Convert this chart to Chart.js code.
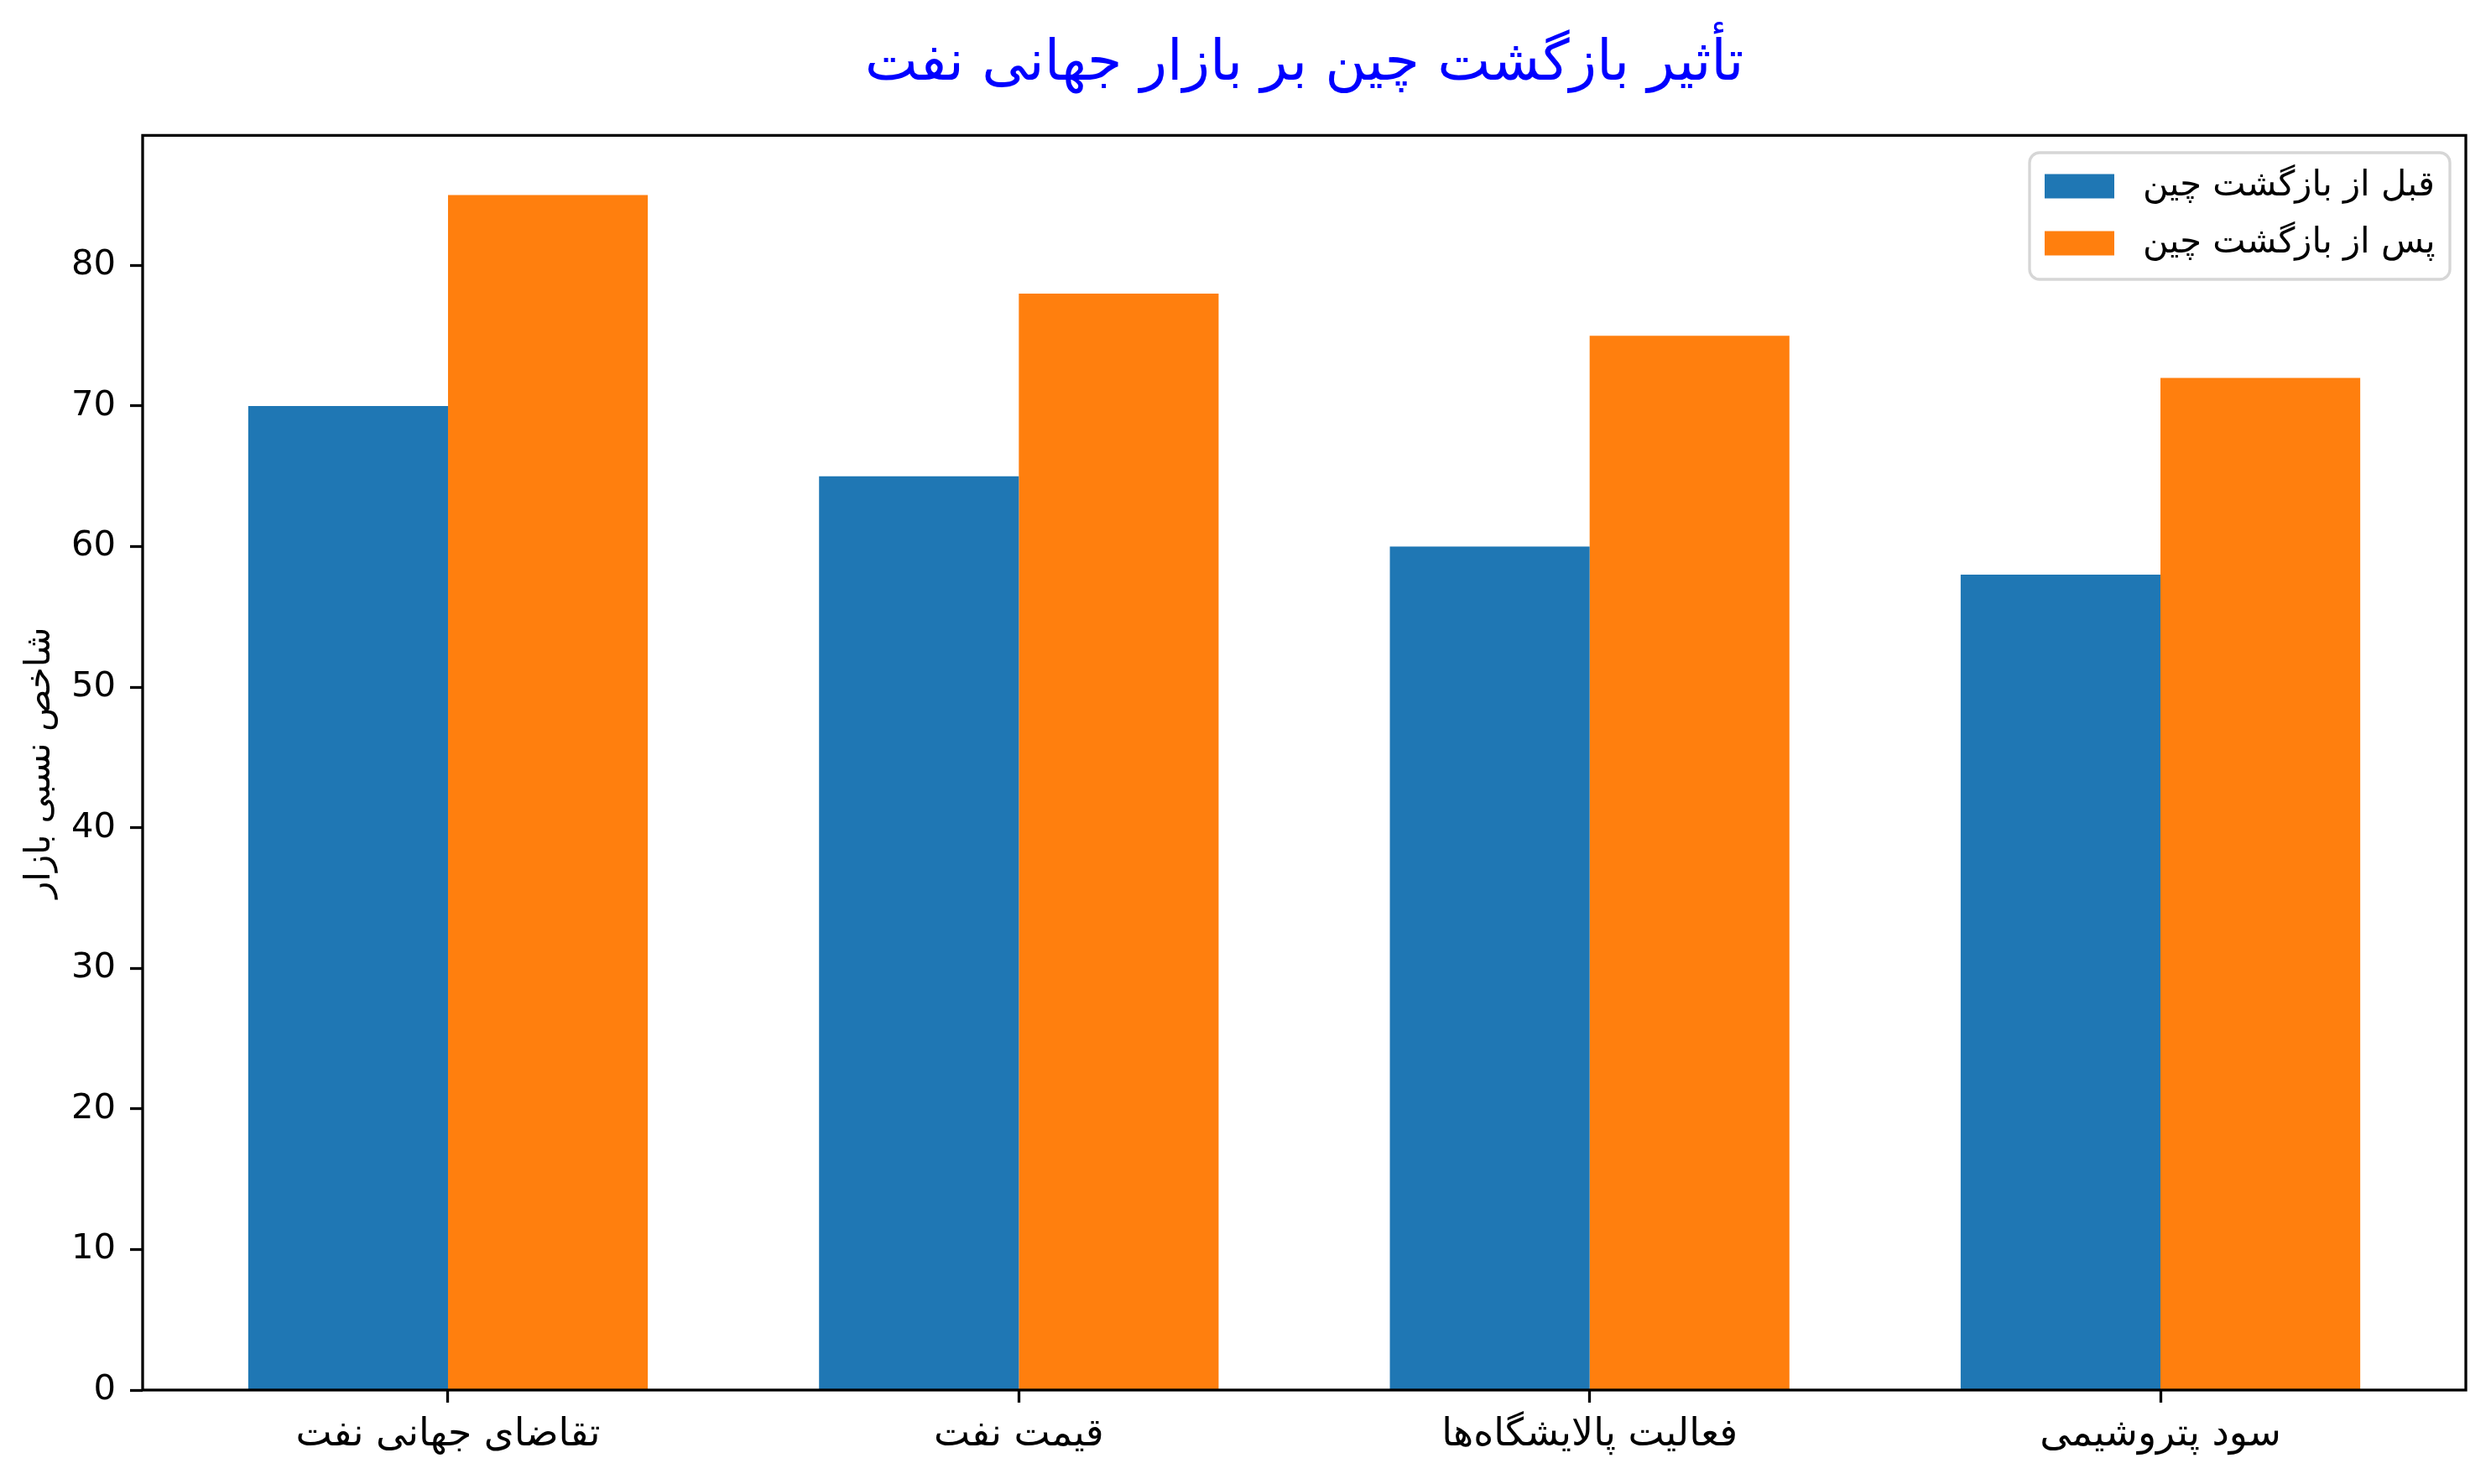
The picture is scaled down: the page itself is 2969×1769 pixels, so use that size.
<!DOCTYPE html>
<html>
<head>
<meta charset="utf-8">
<script src="https://cdn.jsdelivr.net/npm/chart.js@4.4.1/dist/chart.umd.min.js"></script>
<style>
html,body{margin:0;padding:0;background:#fff;}
canvas{display:block;}
</style>
</head>
<body>
<canvas id="c" width="2969" height="1769"></canvas>
<script>
const categories = ["تقاضای جهانی نفت", "قیمت نفت", "فعالیت پالایشگاه‌ها", "سود پتروشیمی"];
const beforeValues = [70, 65, 60, 58];
const afterValues = [85, 78, 75, 72];
const seriesLabels = ["قبل از بازگشت چین", "پس از بازگشت چین"];
const chartTitle = "تأثیر بازگشت چین بر بازار جهانی نفت";
const yAxisLabel = "شاخص نسبی بازار";
const yTicks = [0, 10, 20, 30, 40, 50, 60, 70, 80];
const yMax = 89.25;

const FONT = "'DejaVu Sans', sans-serif";
const FS = 41.7;
const FSX = 45.8;

const framePlugin = {
  id: 'frame',
  afterDatasetsDraw(chart) {
    const a = chart.chartArea, ctx = chart.ctx;
    ctx.save();
    ctx.strokeStyle = '#000';
    ctx.lineWidth = 3.3;
    ctx.strokeRect(a.left, a.top, a.right - a.left, a.bottom - a.top);
    ctx.restore();
  }
};

const legendPlugin = {
  id: 'boxLegend',
  afterDraw(chart) {
    const ctx = chart.ctx;
    const x0 = 2419, y0 = 182, w = 501, h = 151, r = 12;
    ctx.save();
    ctx.fillStyle = 'rgba(255,255,255,0.8)';
    ctx.strokeStyle = '#d6d6d6';
    ctx.lineWidth = 3.3;
    ctx.beginPath();
    ctx.roundRect(x0, y0, w, h, r);
    ctx.fill();
    ctx.stroke();
    const rows = [222, 290];
    chart.data.datasets.forEach((ds, i) => {
      ctx.fillStyle = ds.backgroundColor;
      ctx.fillRect(2437, rows[i] - 14.5, 83, 29);
      ctx.fillStyle = '#000';
      ctx.font = FS + 'px ' + FONT;
      ctx.textBaseline = 'middle';
      ctx.textAlign = 'left';
      ctx.fillText(ds.label, 2554, rows[i]);
    });
    ctx.restore();
  }
};

new Chart(document.getElementById('c'), {
  type: 'bar',
  data: {
    datasets: [
      { label: seriesLabels[0], data: beforeValues.map((v, i) => ({x: i, y: v})), backgroundColor: '#1f77b4', borderWidth: 0 },
      { label: seriesLabels[1], data: afterValues.map((v, i) => ({x: i, y: v})), backgroundColor: '#ff7f0e', borderWidth: 0 }
    ]
  },
  options: {
    responsive: false,
    devicePixelRatio: 1,
    animation: false,
    categoryPercentage: 0.7,
    barPercentage: 1.0,
    layout: { padding: { left: 0, right: 30, top: 0, bottom: 0 } },
    plugins: {
      legend: { display: false },
      tooltip: { enabled: false },
      title: {
        display: true,
        fullSize: false,
        text: chartTitle,
        color: '#0000ff',
        font: { family: FONT, size: 67, weight: 'normal' },
        padding: { top: 37, bottom: 44 }
      }
    },
    scales: {
      x: {
        type: 'linear',
        min: -0.535,
        max: 3.535,
        offset: false,
        grid: { display: true, drawOnChartArea: false, offset: false, tickLength: 15, tickWidth: 3.3, tickColor: '#000' },
        border: { display: false },
        afterBuildTicks: (axis) => { axis.ticks = categories.map((c, i) => ({value: i})); },
        afterFit: (axis) => { axis.height = 112; },
        ticks: {
          autoSkip: false,
          maxRotation: 0,
          padding: 12,
          color: '#000',
          font: { family: FONT, size: FSX },
          callback: (v) => categories[v]
        }
      },
      y: {
        min: 0,
        max: yMax,
        grid: { display: true, drawOnChartArea: false, tickLength: 15, tickWidth: 3.3, tickColor: '#000' },
        border: { display: false },
        afterBuildTicks: (axis) => { axis.ticks = yTicks.map(v => ({value: v})); },
        afterFit: (axis) => { axis.width = 170; },
        title: {
          display: true,
          text: yAxisLabel,
          color: '#000',
          font: { family: FONT, size: FS },
          padding: { top: 23, bottom: 0 }
        },
        ticks: {
          padding: 17,
          color: '#000',
          font: { family: FONT, size: FS }
        }
      }
    }
  },
  plugins: [framePlugin, legendPlugin]
});
</script>
</body>
</html>
